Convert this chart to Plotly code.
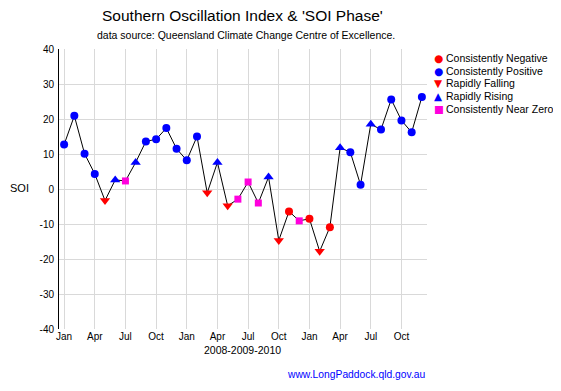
import plotly.graph_objects as go

# ---- data ----
month_index = list(range(36))  # Jan 2008 .. Dec 2010
soi = [12.7, 20.9, 10.1, 4.3, -3.3, 2.6, 2.3, 7.6, 13.6, 14.2, 17.4, 11.5,
       8.2, 15.0, -1.1, 7.6, -4.8, -2.9, 2.0, -4.0, 3.4, -14.7, -6.4, -9.1,
       -8.5, -17.8, -10.9, 11.8, 10.5, 1.2, 18.5, 17.0, 25.6, 19.6, 16.2, 26.3]
phase = ["pos", "pos", "pos", "pos", "fall", "rise", "zero", "rise", "pos", "pos", "pos", "pos",
         "pos", "pos", "fall", "rise", "fall", "zero", "zero", "zero", "rise", "fall", "neg", "zero",
         "neg", "fall", "neg", "rise", "pos", "pos", "rise", "pos", "pos", "pos", "pos", "pos"]
phase_keys = ["neg", "pos", "fall", "rise", "zero"]
phase_names = ["Consistently Negative", "Consistently Positive", "Rapidly Falling",
               "Rapidly Rising", "Consistently Near Zero"]
phase_colors = ["#ff0000", "#0000ff", "#ff0000", "#0000ff", "#ff00dd"]
phase_symbols = ["circle", "circle", "triangle-down", "triangle-up", "square"]
phase_sizes = [8, 8, 9, 9, 7]
phase_glyphs = ["\u25cf", "\u25cf", "\u25bc", "\u25b2", "\u25a0"]
x_tickvals = list(range(0, 36, 3))
x_ticktext = ["Jan", "Apr", "Jul", "Oct"] * 3
y_tickvals = [-40, -30, -20, -10, 0, 10, 20, 30, 40]
y_ticktext = ["-40", "-30", "-20", "-10", "0", "10", "20", "30", "40"]

FONT = "Liberation Sans, Arial, sans-serif"

# page offset (browser body margin) compensation
OFF = 8
PL, PR, PT, PB = 59, 427, 49.3, 329.3   # plot area in page pixels
PW, PH = PR - PL, PB - PT


def px(xpix):
    return (xpix - PL) / PW


def py(ypix):
    return (PB - ypix) / PH


fig = go.Figure()
fig.add_trace(go.Scatter(x=month_index, y=soi, mode="lines",
                         line=dict(color="black", width=1), showlegend=False,
                         hoverinfo="skip"))
for key, name, col, sym, sz in zip(phase_keys, phase_names, phase_colors, phase_symbols, phase_sizes):
    xs = [m for m, p in zip(month_index, phase) if p == key]
    ys = [v for v, p in zip(soi, phase) if p == key]
    fig.add_trace(go.Scatter(x=xs, y=ys, mode="markers", name=name,
                             marker=dict(color=col, symbol=sym, size=sz, line=dict(width=0)),
                             showlegend=False))

annotations = []
annotations.append(dict(text="Southern Oscillation Index & 'SOI Phase'", xref="paper", yref="paper",
                        x=px(242), y=py(16), xanchor="center", yanchor="middle",
                        showarrow=False, font=dict(family=FONT, size=15.5, color="black")))
annotations.append(dict(text="data source: Queensland Climate Change Centre of Excellence.",
                        xref="paper", yref="paper",
                        x=px(246), y=py(35.5), xanchor="center", yanchor="middle",
                        showarrow=False, font=dict(family=FONT, size=10.5, color="black")))
annotations.append(dict(text="SOI", xref="paper", yref="paper",
                        x=px(19), y=py(188), xanchor="center", yanchor="middle",
                        showarrow=False, font=dict(family=FONT, size=11, color="black")))
annotations.append(dict(text="2008-2009-2010", xref="paper", yref="paper",
                        x=px(242.5), y=py(350), xanchor="center", yanchor="middle",
                        showarrow=False, font=dict(family=FONT, size=10.5, color="black")))
annotations.append(dict(text="www.LongPaddock.qld.gov.au", xref="paper", yref="paper",
                        x=1.0, y=py(374.5), xanchor="right", yanchor="middle",
                        showarrow=False, font=dict(family=FONT, size=10.3, color="#0000ff")))
for i, (name, col, g) in enumerate(zip(phase_names, phase_colors, phase_glyphs)):
    ypix = 58.3 + i * 12.7
    annotations.append(dict(text=g, xref="paper", yref="paper", x=px(438.5), y=py(ypix),
                            xanchor="center", yanchor="middle", showarrow=False, borderpad=0,
                            font=dict(family="DejaVu Sans", size=10.5, color=col)))
    annotations.append(dict(text=name, xref="paper", yref="paper", x=px(445), y=py(ypix),
                            xanchor="left", yanchor="middle", showarrow=False, borderpad=0,
                            font=dict(family=FONT, size=10.5, color="black")))

fig.update_layout(
    width=561 - OFF, height=391 - OFF,
    margin=dict(l=PL - OFF, r=561 - PR, t=PT - OFF, b=391 - PB, pad=0),
    paper_bgcolor="white", plot_bgcolor="white",
    font=dict(family=FONT, size=10, color="black"),
    showlegend=False,
    annotations=annotations,
    xaxis=dict(range=[-0.5, 35.5], tickmode="array", tickvals=x_tickvals, ticktext=x_ticktext,
               showgrid=True, gridcolor="#d9d9d9", gridwidth=1, zeroline=False,
               showline=False, ticks="", fixedrange=True, automargin=False,
               tickfont=dict(family=FONT, size=10, color="black")),
    yaxis=dict(range=[-40, 40], tickmode="array", tickvals=y_tickvals, ticktext=y_ticktext,
               showgrid=True, gridcolor="#d9d9d9", gridwidth=1, zeroline=False,
               showline=True, linecolor="black", linewidth=1, ticks="", fixedrange=True,
               automargin=False, ticklabelstandoff=2,
               tickfont=dict(family=FONT, size=10, color="black")),
)

fig.write_html("out.html")
